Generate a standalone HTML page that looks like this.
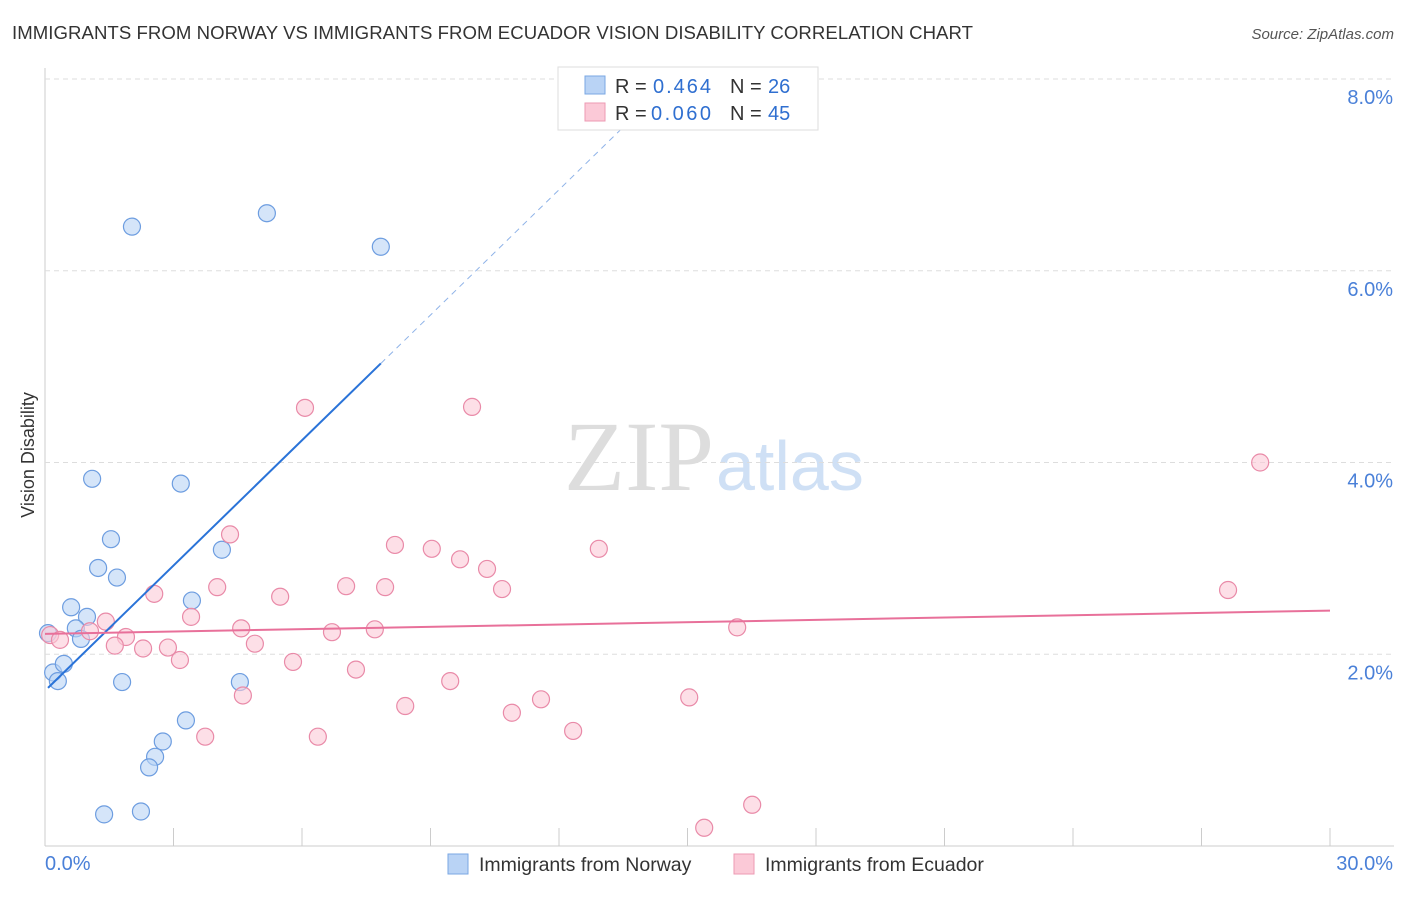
<!DOCTYPE html>
<html><head><meta charset="utf-8"><style>
body{margin:0;background:#fff;font-family:"Liberation Sans",sans-serif}
</style></head><body>
<svg id="c" width="1406" height="892" xmlns="http://www.w3.org/2000/svg">
<text x="12" y="39" font-size="18.6" fill="#333" textLength="961">IMMIGRANTS FROM NORWAY VS IMMIGRANTS FROM ECUADOR VISION DISABILITY CORRELATION CHART</text>
<text x="1394" y="39" font-size="15" fill="#555" font-style="italic" text-anchor="end">Source: ZipAtlas.com</text>
<text x="714" y="490" font-size="100" fill="#ddd" text-anchor="end" font-family="Liberation Serif">ZIP</text>
<text x="716" y="490" font-size="70" fill="#cfe0f5">atlas</text>
<text transform="translate(34,455) rotate(-90)" font-size="18" fill="#333" text-anchor="middle">Vision Disability</text>
<g id="grid"></g><g id="marks"></g>
<g>
<rect x="558" y="67" width="260" height="63" fill="#fff" stroke="#ddd"/>
<rect x="585" y="76" width="20" height="18" fill="#b9d3f5" stroke="#7aa7e3"/>
<rect x="585" y="103" width="20" height="18" fill="#fbc9d7" stroke="#ec9ab3"/>
<text x="615" y="93" font-size="20" fill="#333">R = <tspan x="653" fill="#2f6fd0" textLength="58">0.464</tspan><tspan x="730">N = </tspan><tspan x="768" fill="#2f6fd0">26</tspan></text>
<text x="615" y="120" font-size="20" fill="#333">R = <tspan x="651" fill="#2f6fd0" textLength="60">0.060</tspan><tspan x="730">N = </tspan><tspan x="768" fill="#2f6fd0">45</tspan></text>
</g>
<rect x="448" y="854" width="20" height="20" fill="#b9d3f5" stroke="#7aa7e3"/>
<text x="479" y="871" font-size="19.5" fill="#333">Immigrants from Norway</text>
<rect x="734" y="854" width="20" height="20" fill="#fbc9d7" stroke="#ec9ab3"/>
<text x="765" y="871" font-size="19.5" fill="#333">Immigrants from Ecuador</text>
</svg>
<script>
const yTicks=[2,4,6,8];
const xTickLabels=["0.0%","30.0%"];
const norwayX=[2.03,5.18,7.84,1.1,3.17,1.54,4.13,1.24,1.68,3.43,0.61,0.98,0.72,0.84,0.07,0.19,0.44,0.3,1.8,4.55,3.29,2.75,2.57,2.43,1.38,2.24];
const norwayY=[6.46,6.6,6.25,3.83,3.78,3.2,3.09,2.9,2.8,2.56,2.49,2.39,2.27,2.16,2.22,1.81,1.9,1.72,1.71,1.71,1.31,1.09,0.93,0.82,0.33,0.36];
const ecuadorX=[6.07,9.97,28.37,4.32,8.17,9.03,12.93,9.69,10.32,7.03,7.94,4.02,10.67,2.55,5.49,27.62,3.41,1.42,4.58,1.05,1.89,6.7,7.7,16.16,1.63,2.29,2.87,4.9,3.15,5.79,7.26,9.46,4.62,11.58,15.04,8.41,10.9,3.74,6.37,12.33,16.51,15.39,0.12,0.35];
const ecuadorY=[4.57,4.58,4.0,3.25,3.14,3.1,3.1,2.99,2.89,2.71,2.7,2.7,2.68,2.63,2.6,2.67,2.39,2.34,2.27,2.24,2.18,2.23,2.26,2.28,2.09,2.06,2.07,2.11,1.94,1.92,1.84,1.72,1.57,1.53,1.55,1.46,1.39,1.14,1.14,1.2,0.43,0.19,2.2,2.15];
const ns="http://www.w3.org/2000/svg";
const X0=45,X1=1330,Y0=846,Y8=79;
const sx=v=>X0+(X1-X0)*v/30, sy=v=>Y0-(Y0-Y8)*v/8;
const grid=document.getElementById('grid'),marks=document.getElementById('marks');
function mk(tag,at,p){const e=document.createElementNS(ns,tag);for(const k in at)e.setAttribute(k,at[k]);p.appendChild(e);return e;}
let ax=mk('line',{x1:X0,y1:68,x2:X0,y2:846,stroke:'#ccc'},grid);


let bx=mk('line',{x1:X0,y1:846,x2:1394,y2:846,stroke:'#ccc'},grid);


for(let i=0;i<=10;i++){const t=mk('line',{x1:sx(i*3),y1:828,x2:sx(i*3),y2:846,stroke:'#ccc'},grid);

}
yTicks.forEach(v=>{const l=mk('line',{x1:X0,y1:sy(v),x2:1394,y2:sy(v),stroke:'#ddd','stroke-dasharray':'5,4'},grid);


const t=mk('text',{x:1393,y:sy(v)+25,'font-size':20,fill:'#4a80d8','text-anchor':'end'},grid);t.textContent=v.toFixed(1)+'%';

});
xTickLabels.forEach((s,i)=>{const t=mk('text',{x:i?1393:45,y:870,'font-size':20,fill:'#4a80d8','text-anchor':i?'end':'start'},grid);t.textContent=s;

});
function fit(xs,ys){const n=xs.length,mx=xs.reduce((a,b)=>a+b)/n,my=ys.reduce((a,b)=>a+b)/n;let sxy=0,sxx=0;for(let i=0;i<n;i++){sxy+=(xs[i]-mx)*(ys[i]-my);sxx+=(xs[i]-mx)**2;}const b=sxy/sxx;return [my-b*mx,b];}
function pts(xs,ys,fill,stroke,name){xs.forEach((x,i)=>{const c=mk('circle',{cx:sx(x),cy:sy(ys[i]),r:8.5,fill:fill,'fill-opacity':0.6,stroke:stroke,'stroke-width':1.2},marks);

});}
pts(norwayX,norwayY,'#b9d3f5','#6d9de0','norway-point');
pts(ecuadorX,ecuadorY,'#fbc9d7','#e98aa8','ecuador-point');
let [a,b]=fit(norwayX,norwayY);const xmax=Math.max(...norwayX),xmin=Math.min(...norwayX);
let l1=mk('line',{x1:sx(xmin),y1:sy(a+b*xmin),x2:sx(xmax),y2:sy(a+b*xmax),stroke:'#2a73d8','stroke-width':2},marks);


const xe=b>0?Math.min(30,(8-a)/b):30;
let l2=mk('line',{x1:sx(xmax),y1:sy(a+b*xmax),x2:sx(xe),y2:sy(a+b*xe),stroke:'#8fb3e8','stroke-width':1,'stroke-dasharray':'6,5'},marks);


[a,b]=fit(ecuadorX,ecuadorY);
let l3=mk('line',{x1:sx(0),y1:sy(a),x2:sx(30),y2:sy(a+b*30),stroke:'#e8709a','stroke-width':2},marks);


</script>
</body></html>
